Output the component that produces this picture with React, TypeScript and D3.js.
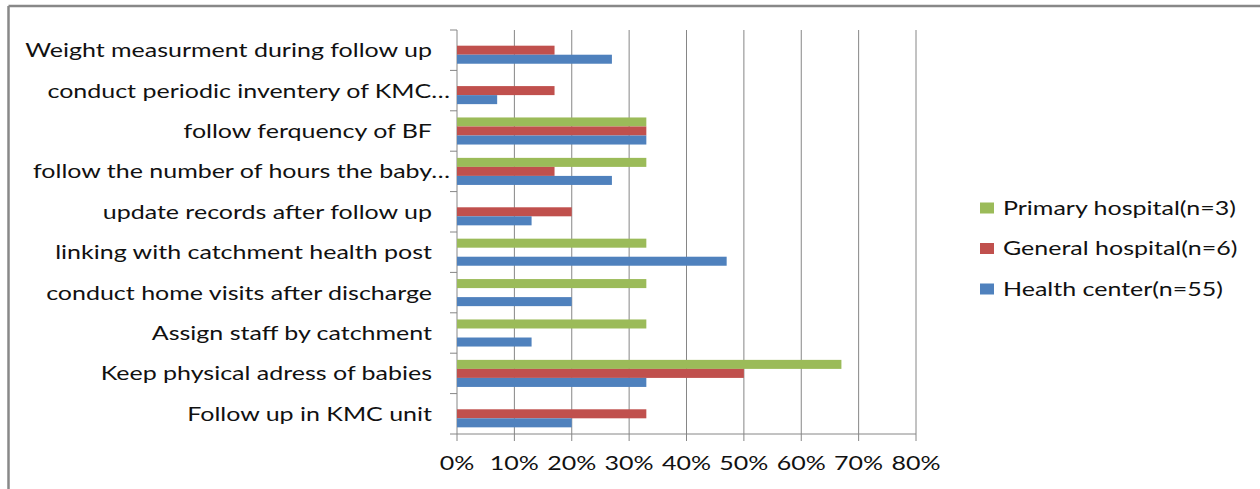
import React from "react";
import * as d3 from "d3";

const categories = [
  "Weight measurment during follow up",
  "conduct periodic inventery of KMC…",
  "follow ferquency of BF",
  "follow the number of hours the baby…",
  "update records after follow up",
  "linking with catchment health post",
  "conduct home visits after discharge",
  "Assign staff by catchment",
  "Keep physical adress of babies",
  "Follow up in KMC unit",
];
const truncated = [false, true, false, true, false, false, false, false, false, false];

const seriesNames = ["Primary hospital(n=3)", "General hospital(n=6)", "Health center(n=55)"];
const seriesColors = ["#9BBB59", "#C0504D", "#4F81BD"];

const primaryHospital = [0, 0, 33, 33, 0, 33, 33, 33, 67, 0];
const generalHospital = [17, 17, 33, 17, 20, 0, 0, 0, 50, 33];
const healthCenter = [27, 7, 33, 27, 13, 47, 20, 13, 33, 20];
const seriesValues = [primaryHospital, generalHospital, healthCenter];

const xTicks = [0, 10, 20, 30, 40, 50, 60, 70, 80];

const W = 1260;
const H = 489;
const plotLeft = 457;
const plotRight = 916;
const plotTop = 30;
const plotBottom = 434;
const FONT = "Lato, 'Noto Sans', sans-serif";
const FS = 20;
const SX = 1.25;
const GRID = "#868686";
const TEXT = "#111";

export default function App() {
  const x = d3.scaleLinear().domain([0, 80]).range([plotLeft, plotRight]);
  const y = d3
    .scaleBand<number>()
    .domain(d3.range(categories.length))
    .range([plotTop, plotBottom])
    .paddingInner(0.33)
    .paddingOuter(0.165);
  const step = y.step();
  const ySub = d3
    .scaleBand<number>()
    .domain([0, 1, 2])
    .range([0, y.bandwidth()]);

  const boundaries = d3.range(categories.length + 1).map((i) => plotTop + i * step);

  return (
    <svg
      width={W}
      height={H}
      style={{ position: "absolute", left: 0, top: 0, background: "#fff" }}
    >
      <rect x={0} y={0} width={W} height={H} fill="#fff" />
      {/* outer frame */}
      <line x1={8.5} y1={6} x2={W} y2={6} stroke="#888" strokeWidth={2.5} />
      <line x1={8.5} y1={6} x2={8.5} y2={H} stroke="#888" strokeWidth={2.5} />

      {/* vertical gridlines */}
      {xTicks.map((t) => (
        <line
          key={"g" + t}
          x1={x(t)}
          x2={x(t)}
          y1={plotTop}
          y2={plotBottom + 7}
          stroke={GRID}
          strokeWidth={1}
        />
      ))}
      {/* horizontal axis */}
      <line x1={plotLeft} x2={plotRight} y1={plotBottom} y2={plotBottom} stroke={GRID} strokeWidth={1} />
      {/* category tick marks */}
      {boundaries.map((b, i) => (
        <line key={"ct" + i} x1={plotLeft - 7} x2={plotLeft} y1={b} y2={b} stroke={GRID} strokeWidth={1} />
      ))}

      {/* bars */}
      {categories.map((c, ci) =>
        seriesValues.map((vals, si) =>
          vals[ci] > 0 ? (
            <rect
              key={`b${ci}-${si}`}
              x={x(0)}
              y={(y(ci) as number) + (ySub(si) as number)}
              width={x(vals[ci]) - x(0)}
              height={ySub.bandwidth()}
              fill={seriesColors[si]}
            />
          ) : null
        )
      )}

      {/* category labels */}
      {categories.map((c, ci) => {
        const cy = (y(ci) as number) + y.bandwidth() / 2 + 7;
        const ex = truncated[ci] ? 450 : 432;
        return (
          <text
            key={"cl" + ci}
            transform={`translate(${ex},${cy}) scale(${SX},1)`}
            textAnchor="end"
            fontFamily={FONT}
            fontSize={FS}
            fill={TEXT}
          >
            {c}
          </text>
        );
      })}

      {/* x tick labels */}
      {xTicks.map((t) => (
        <text
          key={"xl" + t}
          transform={`translate(${x(t)},470) scale(${SX},1)`}
          textAnchor="middle"
          fontFamily={FONT}
          fontSize={FS}
          fill={TEXT}
        >
          {t + "%"}
        </text>
      ))}

      {/* legend */}
      {seriesNames.map((n, i) => {
        const cy = 208 + i * 40.5;
        return (
          <g key={"lg" + i}>
            <rect x={980} y={cy - 5.5} width={14} height={11} fill={seriesColors[i]} />
            <text
              transform={`translate(1003,${cy + 6.5}) scale(${SX},1)`}
              fontFamily={FONT}
              fontSize={FS}
              fill={TEXT}
            >
              {n}
            </text>
          </g>
        );
      })}
    </svg>
  );
}
